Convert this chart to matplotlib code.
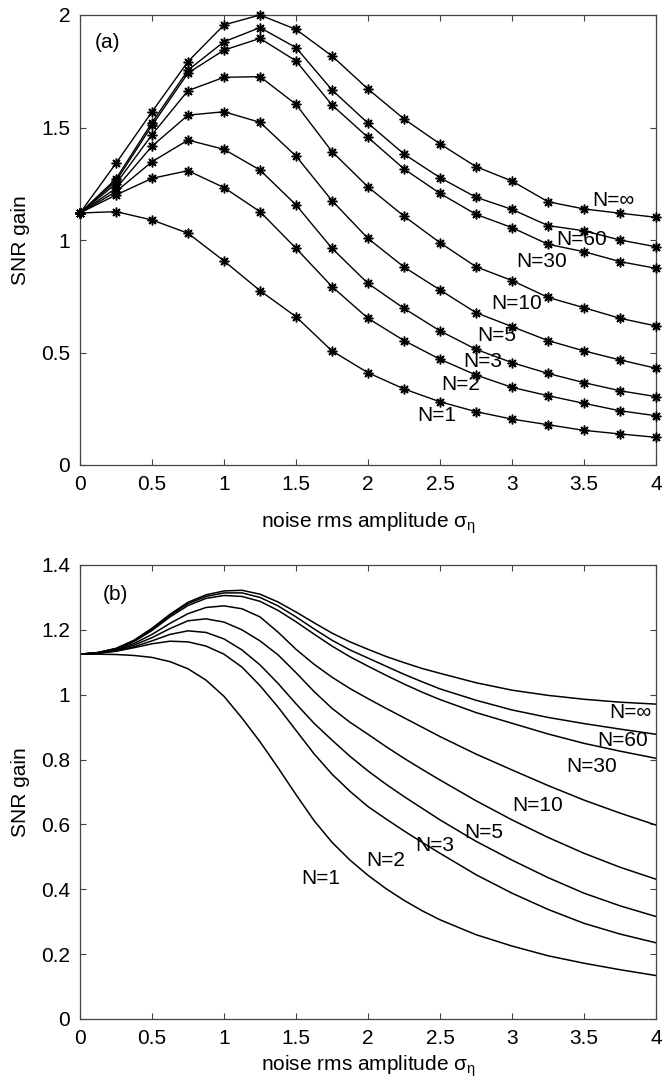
import matplotlib
matplotlib.use("Agg")
import matplotlib.pyplot as plt

plt.rcParams['font.family'] = ['Liberation Sans', 'DejaVu Sans']
plt.rcParams['mathtext.fontset'] = 'custom'
plt.rcParams['mathtext.rm'] = 'Liberation Sans'
plt.rcParams['mathtext.it'] = 'Liberation Sans'

# ---------------- data ----------------
labels = ['N=1', 'N=2', 'N=3', 'N=5', 'N=10', 'N=30', 'N=60', 'N=\u221e']

# panel (a): simulated SNR gain (markers every 0.25)
sigma_a = [0, 0.25, 0.5, 0.75, 1.0, 1.25, 1.5, 1.75, 2.0, 2.25, 2.5, 2.75, 3.0, 3.25, 3.5, 3.75, 4.0]
a_N1 = [1.12, 1.126, 1.089, 1.030, 0.907, 0.775, 0.659, 0.507, 0.410, 0.338, 0.281, 0.237, 0.204, 0.179, 0.154, 0.138, 0.123]
a_N2 = [1.12, 1.200, 1.274, 1.308, 1.233, 1.126, 0.963, 0.793, 0.652, 0.553, 0.470, 0.400, 0.345, 0.308, 0.274, 0.241, 0.219]
a_N3 = [1.12, 1.215, 1.348, 1.444, 1.403, 1.311, 1.156, 0.963, 0.807, 0.696, 0.596, 0.514, 0.455, 0.407, 0.366, 0.330, 0.304]
a_N5 = [1.12, 1.230, 1.417, 1.555, 1.570, 1.523, 1.373, 1.175, 1.007, 0.880, 0.778, 0.677, 0.615, 0.553, 0.507, 0.467, 0.430]
a_N10 = [1.12, 1.250, 1.468, 1.664, 1.723, 1.726, 1.603, 1.393, 1.236, 1.106, 0.988, 0.881, 0.820, 0.745, 0.699, 0.652, 0.618]
a_N30 = [1.12, 1.262, 1.509, 1.742, 1.844, 1.896, 1.796, 1.600, 1.456, 1.316, 1.207, 1.114, 1.055, 0.981, 0.948, 0.904, 0.874]
a_N60 = [1.12, 1.272, 1.522, 1.755, 1.881, 1.944, 1.855, 1.667, 1.519, 1.382, 1.277, 1.190, 1.136, 1.064, 1.041, 1.000, 0.970]
a_Ninf = [1.12, 1.341, 1.570, 1.793, 1.956, 2.000, 1.936, 1.818, 1.671, 1.538, 1.427, 1.326, 1.262, 1.170, 1.138, 1.119, 1.101]

# panel (b): theoretical SNR gain
sigma_b = [0, 0.125, 0.25, 0.375, 0.5, 0.625, 0.75, 0.875, 1.0, 1.125, 1.25, 1.375, 1.5,
           1.625, 1.75, 1.875, 2.0, 2.125, 2.25, 2.375, 2.5, 2.75, 3.0, 3.25, 3.5, 3.75, 4.0]
b_N1 = [1.125, 1.125, 1.124, 1.121, 1.115, 1.102, 1.080, 1.045, 0.995, 0.928, 0.855, 0.775, 0.692,
        0.612, 0.545, 0.490, 0.443, 0.402, 0.366, 0.334, 0.306, 0.260, 0.225, 0.195, 0.172, 0.152, 0.134]
b_N2 = [1.125, 1.128, 1.134, 1.145, 1.157, 1.165, 1.163, 1.150, 1.125, 1.085, 1.028, 0.962, 0.890,
        0.818, 0.755, 0.702, 0.655, 0.617, 0.580, 0.545, 0.511, 0.445, 0.388, 0.338, 0.295, 0.262, 0.235]
b_N3 = [1.125, 1.128, 1.135, 1.148, 1.166, 1.186, 1.197, 1.192, 1.172, 1.138, 1.092, 1.035, 0.972,
        0.912, 0.860, 0.810, 0.765, 0.724, 0.686, 0.650, 0.614, 0.548, 0.490, 0.436, 0.388, 0.349, 0.316]
b_N5 = [1.125, 1.129, 1.137, 1.153, 1.176, 1.204, 1.228, 1.234, 1.224, 1.200, 1.166, 1.123, 1.068,
        1.010, 0.958, 0.915, 0.878, 0.840, 0.804, 0.770, 0.737, 0.673, 0.614, 0.560, 0.511, 0.468, 0.431]
b_N10 = [1.125, 1.129, 1.139, 1.158, 1.186, 1.220, 1.250, 1.269, 1.274, 1.265, 1.240, 1.193, 1.140,
         1.094, 1.054, 1.019, 0.988, 0.958, 0.929, 0.900, 0.871, 0.817, 0.768, 0.720, 0.675, 0.635, 0.598]
b_N30 = [1.125, 1.130, 1.141, 1.164, 1.198, 1.240, 1.275, 1.297, 1.306, 1.303, 1.288, 1.260, 1.225,
         1.187, 1.150, 1.117, 1.088, 1.060, 1.033, 1.008, 0.985, 0.945, 0.912, 0.879, 0.850, 0.826, 0.804]
b_N60 = [1.125, 1.130, 1.142, 1.166, 1.202, 1.245, 1.281, 1.303, 1.314, 1.314, 1.300, 1.274, 1.240,
         1.203, 1.168, 1.138, 1.113, 1.088, 1.063, 1.040, 1.018, 0.983, 0.953, 0.930, 0.911, 0.894, 0.878]
b_Ninf = [1.125, 1.130, 1.143, 1.168, 1.205, 1.248, 1.285, 1.308, 1.320, 1.322, 1.310, 1.286, 1.255,
          1.222, 1.190, 1.163, 1.140, 1.118, 1.099, 1.081, 1.066, 1.037, 1.014, 0.998, 0.986, 0.977, 0.971]

# label anchors (left edge, vertical centre) in data units
a_lab_x = [2.345, 2.512, 2.66, 2.757, 2.859, 3.028, 3.31, 3.556]
a_lab_y = [0.218, 0.357, 0.462, 0.576, 0.716, 0.904, 1.004, 1.176]
b_lab_x = [1.533, 1.986, 2.326, 2.667, 3.005, 3.38, 3.59, 3.674]
b_lab_y = [0.432, 0.489, 0.535, 0.575, 0.657, 0.779, 0.860, 0.945]

a_series = [a_N1, a_N2, a_N3, a_N5, a_N10, a_N30, a_N60, a_Ninf]
b_series = [b_N1, b_N2, b_N3, b_N5, b_N10, b_N30, b_N60, b_Ninf]

# ---------------- figure ----------------
W, H = 662, 1087
fig = plt.figure(figsize=(W / 100, H / 100), dpi=100)
ax1 = fig.add_axes([80 / W, 1 - 465 / H, 576 / W, 450 / H])
ax2 = fig.add_axes([80 / W, 1 - 1019 / H, 576 / W, 454 / H])

FS = 15
xlabel = 'noise rms amplitude $\\sigma_{\\eta}$'


def style(ax, ylim, yticks, yticklabels, xpad):
    ax.set_xlim(0, 4)
    ax.set_ylim(*ylim)
    ax.set_xticks([0, 0.5, 1, 1.5, 2, 2.5, 3, 3.5, 4])
    ax.set_xticklabels(['0', '0.5', '1', '1.5', '2', '2.5', '3', '3.5', '4'])
    ax.set_yticks(yticks)
    ax.set_yticklabels(yticklabels)
    ax.tick_params(direction='in', top=True, right=True, length=4, width=0.8,
                   labelsize=FS, color='#444444', pad=7)
    for s in ax.spines.values():
        s.set_color('#444444')
        s.set_linewidth(0.9)
    ax.set_xlabel(xlabel, fontsize=FS, labelpad=xpad)
    ax.set_ylabel('SNR gain', fontsize=FS, labelpad=8)


# panel (a)
for ys in a_series:
    ax1.plot(sigma_a, ys, color='black', lw=1.0, marker=(8, 2, 0), ms=7,
             mew=1.1, clip_on=False, zorder=3)
for lab, lx, ly in zip(labels, a_lab_x, a_lab_y):
    ax1.text(lx, ly, lab, fontsize=FS, ha='left', va='center')
ax1.text(0.1, 1.88, '(a)', fontsize=FS, ha='left', va='center')
style(ax1, (0, 2), [0, 0.5, 1, 1.5, 2], ['0', '0.5', '1', '1.5', '2'], 12)

# panel (b)
for ys in b_series:
    ax2.plot(sigma_b, ys, color='black', lw=1.1)
for lab, lx, ly in zip(labels, b_lab_x, b_lab_y):
    ax2.text(lx, ly, lab, fontsize=FS, ha='left', va='center')
ax2.text(0.16, 1.309, '(b)', fontsize=FS, ha='left', va='center')
style(ax2, (0, 1.4), [0, 0.2, 0.4, 0.6, 0.8, 1.0, 1.2, 1.4],
      ['0', '0.2', '0.4', '0.6', '0.8', '1', '1.2', '1.4'], 4)

fig.savefig('out.png', dpi=100)
